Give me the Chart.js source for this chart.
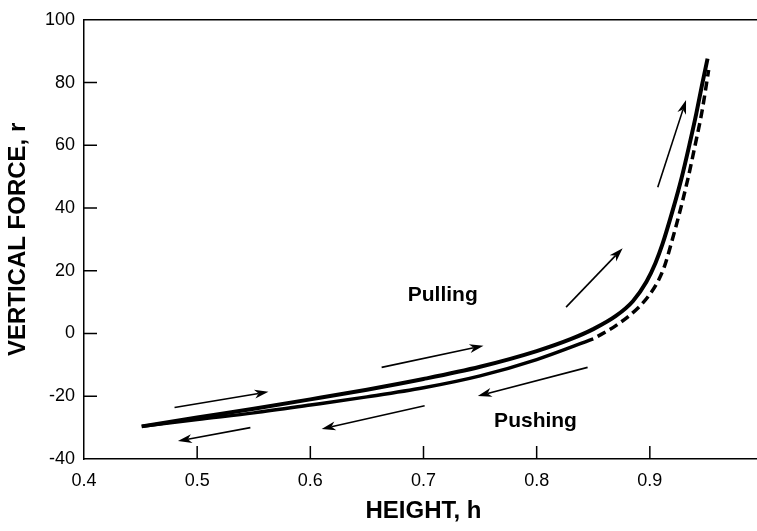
<!DOCTYPE html>
<html>
<head>
<meta charset="utf-8">
<script src="https://cdn.jsdelivr.net/npm/chart.js@4/dist/chart.umd.min.js"></script>
<style>
  html, body { margin: 0; padding: 0; background: #fff; overflow: hidden; }
  #wrap { width: 780px; height: 531px; }
</style>
</head>
<body>
<div id="wrap"><canvas id="grafico"></canvas></div>
<script>
// curva de tirar (linea continua superior)
const pullH = [0.451, 0.5, 0.55, 0.6, 0.65, 0.7, 0.75, 0.8, 0.83, 0.85, 0.87, 0.885, 0.897, 0.905, 0.911, 0.92, 0.928, 0.935, 0.941, 0.946, 0.951];
const pullR = [-29.6, -26.8, -24.0, -21.0, -17.9, -14.5, -10.6, -5.6, -1.8, 1.4, 5.6, 10.3, 16.5, 22.5, 28.3, 39.0, 49.5, 60.2, 70.0, 79.0, 87.6];

// curva de empujar: tramo continuo y tramo discontinuo
const pushH = [0.451, 0.5, 0.55, 0.6, 0.65, 0.7, 0.75, 0.8, 0.85];
const pushR = [-29.6, -27.4, -25.3, -22.8, -20.2, -17.3, -13.5, -8.3, -1.7];
const pushDashH = [0.85, 0.87, 0.89, 0.9, 0.907, 0.913, 0.919, 0.927, 0.934, 0.940, 0.946, 0.952];
const pushDashR = [-1.7, 2.5, 8.3, 12.5, 16.5, 21.5, 28.8, 39.5, 49.9, 60.0, 70.6, 84.0];

// flechas: [h inicio, r inicio, h punta, r punta]
const flechas = [
  [0.480, -23.6, 0.563, -18.6],
  [0.547, -30.0, 0.483, -34.3],
  [0.701, -23.0, 0.610, -30.4],
  [0.663, -10.8, 0.753, -3.9],
  [0.845, -10.8, 0.748, -19.9],
  [0.826, 8.4, 0.876, 27.2],
  [0.907, 46.6, 0.932, 74.4],
];

// etiquetas de texto
const etiquetas = [
  { texto: "Pulling", h: 0.717, r: 12.1 },
  { texto: "Pushing", h: 0.799, r: -28.0 },
];

const xTicks = [0.4, 0.5, 0.6, 0.7, 0.8, 0.9, 1.0];
const yTicks = [-40, -20, 0, 20, 40, 60, 80, 100];

const puntos = (hs, rs) => hs.map((h, i) => ({ x: h, y: rs[i] }));
const FUENTE = "'Liberation Sans', Arial, Helvetica, sans-serif";

// marcas hacia dentro, borde superior, flechas y textos
const extras = {
  id: "extras",
  afterDatasetsDraw(chart) {
    const { ctx, chartArea, scales } = chart;
    const x = scales.x, y = scales.y;
    ctx.save();
    ctx.strokeStyle = "#000";
    ctx.fillStyle = "#000";
    ctx.lineWidth = 1.5;
    // borde de arriba
    ctx.beginPath();
    ctx.moveTo(chartArea.left, chartArea.top);
    ctx.lineTo(chartArea.right, chartArea.top);
    ctx.stroke();
    // marcas
    ctx.beginPath();
    xTicks.slice(1, -1).forEach((v) => {
      const px = x.getPixelForValue(v);
      ctx.moveTo(px, chartArea.bottom);
      ctx.lineTo(px, chartArea.bottom - 13);
    });
    yTicks.slice(1, -1).forEach((v) => {
      const py = y.getPixelForValue(v);
      ctx.moveTo(chartArea.left, py);
      ctx.lineTo(chartArea.left + 13, py);
    });
    ctx.stroke();
    // flechas
    ctx.lineWidth = 1.6;
    flechas.forEach(([h1, r1, h2, r2]) => {
      const x1 = x.getPixelForValue(h1), y1 = y.getPixelForValue(r1);
      const x2 = x.getPixelForValue(h2), y2 = y.getPixelForValue(r2);
      const ang = Math.atan2(y2 - y1, x2 - x1);
      const largo = 14, ancho = 4.5;
      const bx = x2 - largo * Math.cos(ang), by = y2 - largo * Math.sin(ang);
      ctx.beginPath();
      ctx.moveTo(x1, y1);
      ctx.lineTo(bx + 4 * Math.cos(ang), by + 4 * Math.sin(ang));
      ctx.stroke();
      ctx.beginPath();
      ctx.moveTo(x2, y2);
      ctx.lineTo(bx + ancho * Math.sin(ang), by - ancho * Math.cos(ang));
      ctx.lineTo(bx + 4 * Math.cos(ang), by + 4 * Math.sin(ang));
      ctx.lineTo(bx - ancho * Math.sin(ang), by + ancho * Math.cos(ang));
      ctx.closePath();
      ctx.fill();
    });
    // textos
    ctx.font = "bold 21px " + FUENTE;
    ctx.textAlign = "center";
    ctx.textBaseline = "middle";
    etiquetas.forEach((e) => {
      ctx.fillText(e.texto, x.getPixelForValue(e.h), y.getPixelForValue(e.r));
    });
    ctx.restore();
  },
};

new Chart(document.getElementById("grafico"), {
  type: "scatter",
  data: {
    datasets: [
      {
        label: "Pulling",
        data: puntos(pullH, pullR),
        showLine: true,
        borderColor: "#000",
        borderWidth: 4,
        pointRadius: 0,
        cubicInterpolationMode: "monotone",
      },
      {
        label: "Pushing",
        data: puntos(pushH, pushR),
        showLine: true,
        borderColor: "#000",
        borderWidth: 3.5,
        pointRadius: 0,
        cubicInterpolationMode: "monotone",
      },
      {
        label: "Pushing (dashed)",
        data: puntos(pushDashH, pushDashR),
        showLine: true,
        borderColor: "#000",
        borderWidth: 3.5,
        borderDash: [9, 5],
        borderDashOffset: 9,
        pointRadius: 0,
        cubicInterpolationMode: "monotone",
      },
    ],
  },
  options: {
    responsive: true,
    maintainAspectRatio: false,
    animation: false,
    layout: { padding: { top: 13, right: 17, left: 0, bottom: 0 } },
    plugins: {
      legend: { display: false },
      tooltip: { enabled: false },
    },
    scales: {
      x: {
        type: "linear",
        min: 0.4,
        max: 1.0,
        afterFit: (s) => { s.height = 72; },
        afterBuildTicks: (s) => { s.ticks = xTicks.map((v) => ({ value: v })); },
        grid: { display: false, drawTicks: false },
        border: { display: true, color: "#000", width: 1.5 },
        ticks: {
          padding: 11,
          color: "#000",
          font: { family: FUENTE, size: 18 },
          callback: (v) => (v === 1 ? "1" : Number(v).toFixed(1)),
        },
        title: {
          display: true,
          text: "HEIGHT, h",
          color: "#000",
          padding: 5,
          font: { family: FUENTE, size: 24, weight: "bold" },
        },
      },
      y: {
        min: -40,
        max: 100,
        afterFit: (s) => { s.width = 84; },
        afterBuildTicks: (s) => { s.ticks = yTicks.map((v) => ({ value: v })); },
        grid: { display: false, drawTicks: false },
        border: { display: true, color: "#000", width: 1.5 },
        ticks: {
          padding: 9,
          color: "#000",
          font: { family: FUENTE, size: 18 },
        },
        title: {
          display: true,
          text: "VERTICAL FORCE, r",
          color: "#000",
          padding: 4,
          font: { family: FUENTE, size: 24, weight: "bold" },
        },
      },
    },
  },
  plugins: [extras],
});
</script>
</body>
</html>
